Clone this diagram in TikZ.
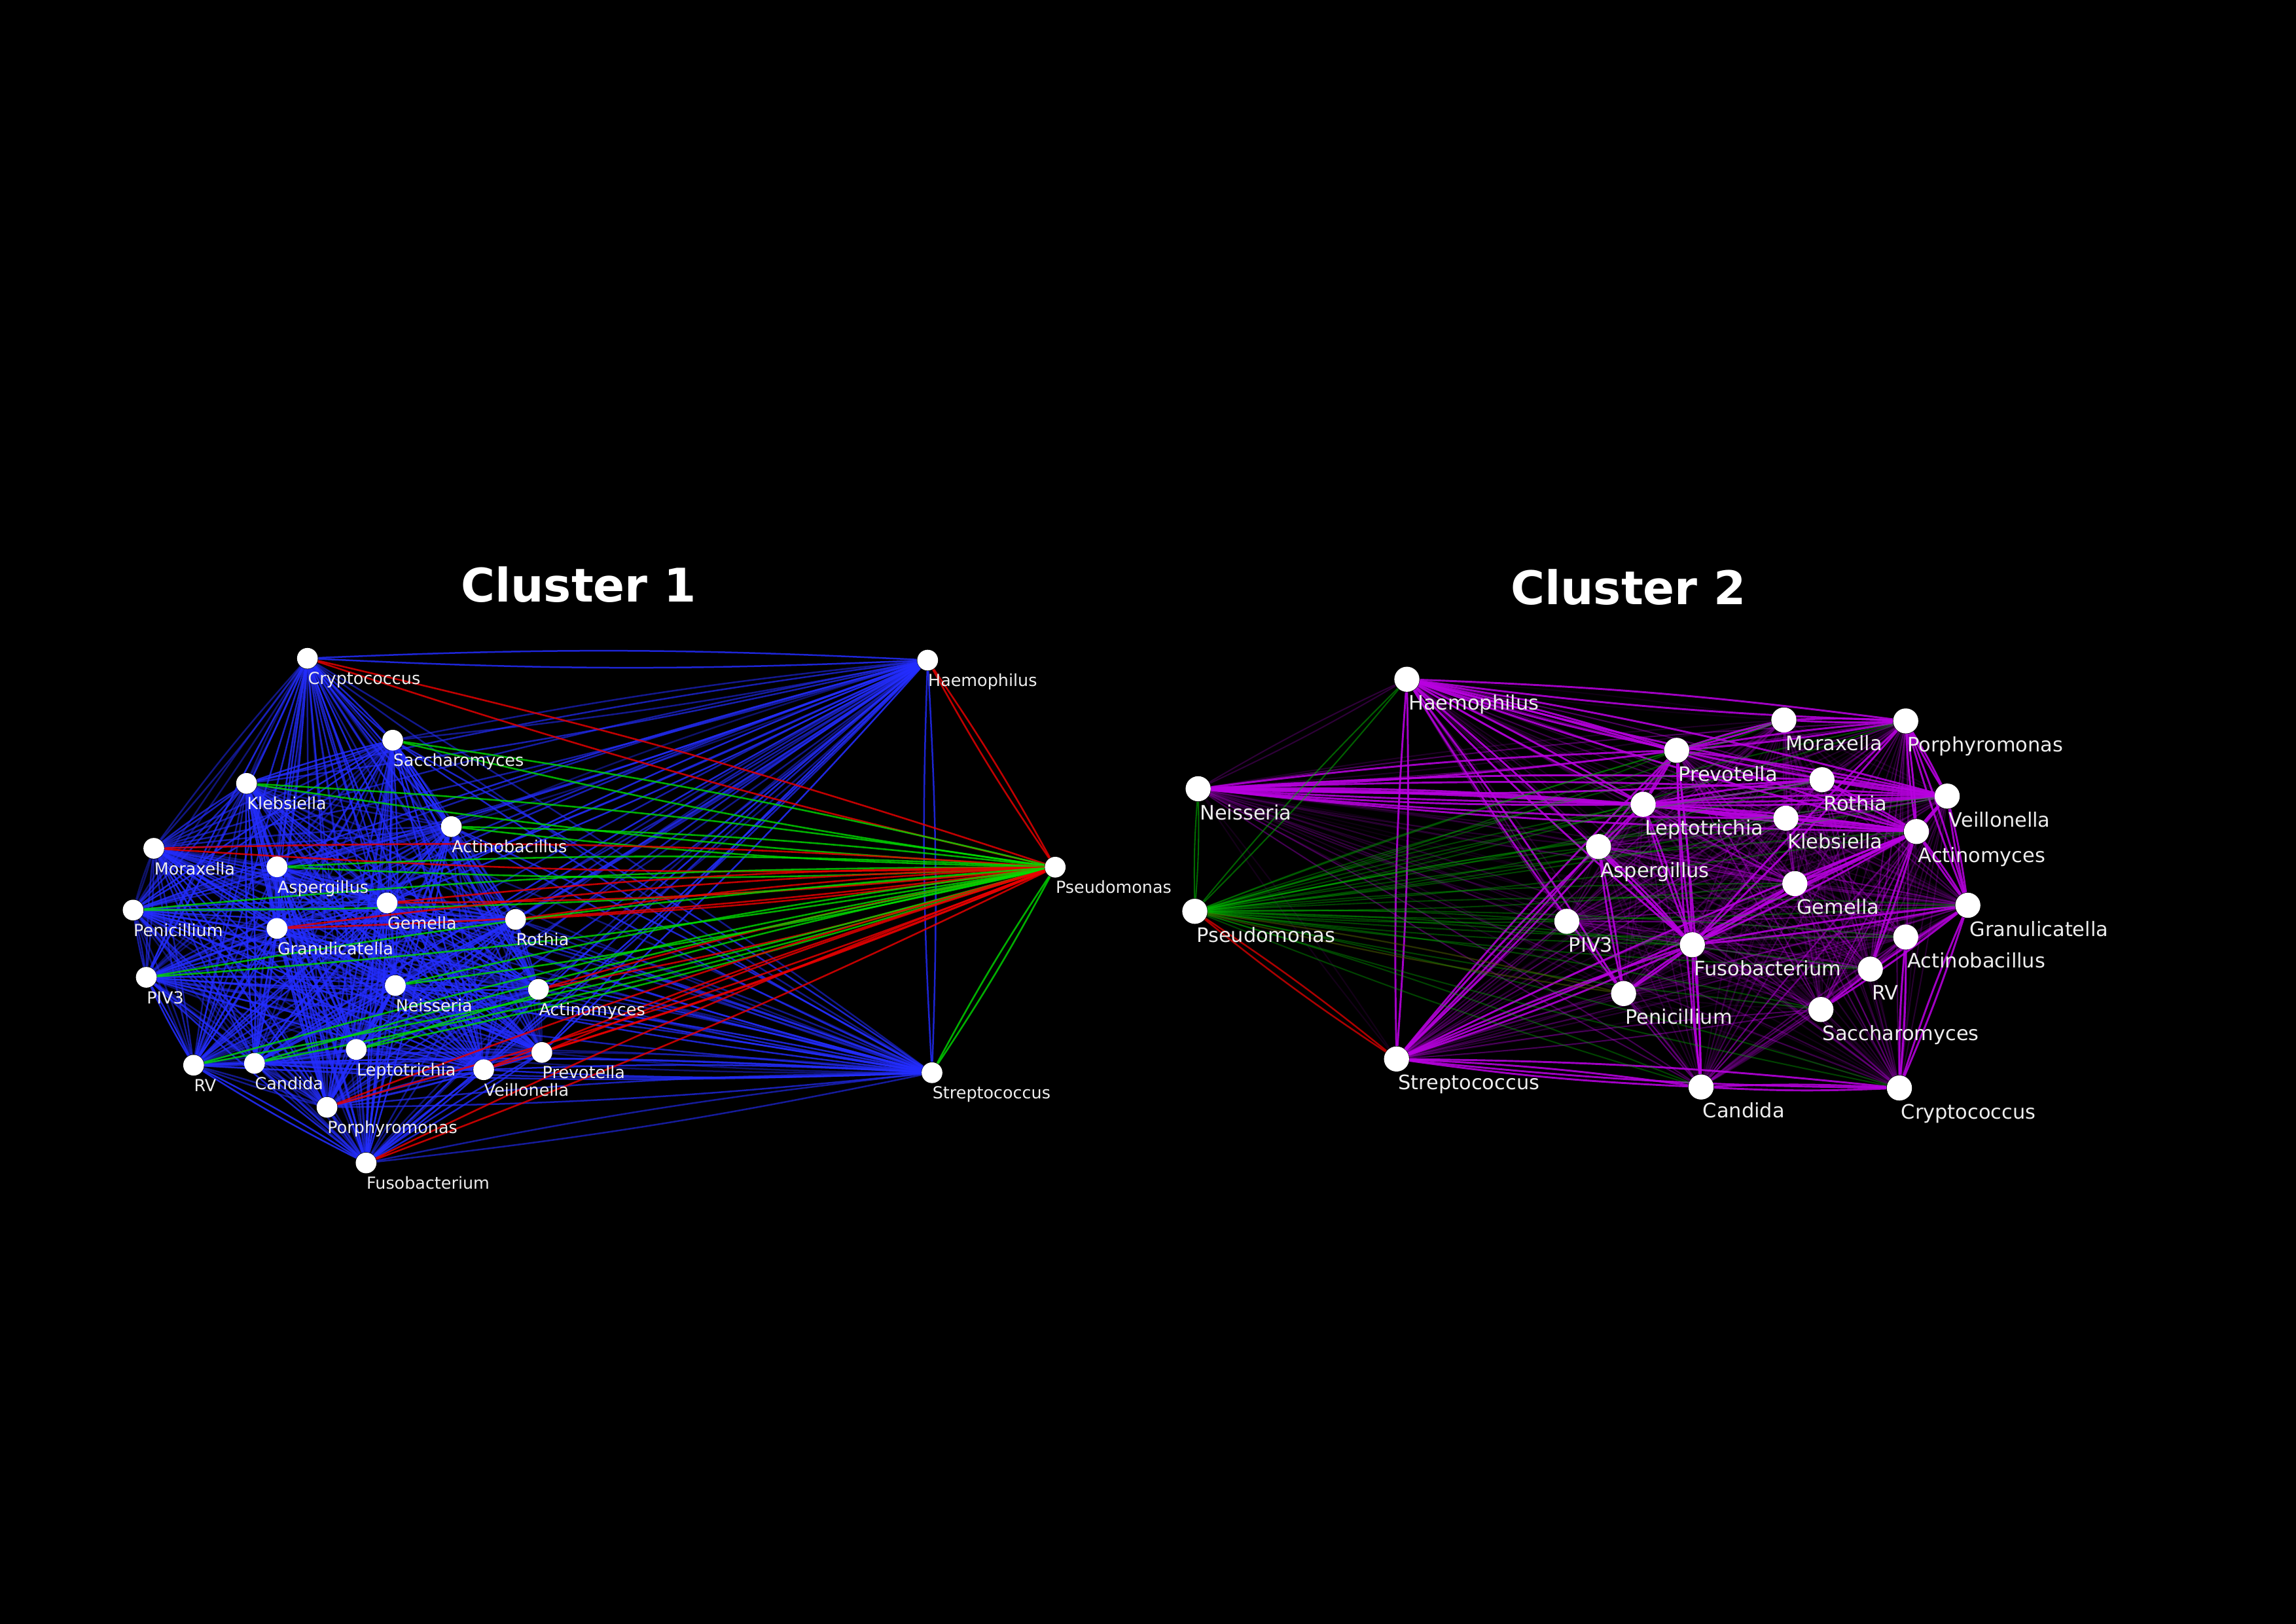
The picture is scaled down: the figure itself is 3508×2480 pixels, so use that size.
\documentclass[tikz,border=0pt]{standalone}
\usepackage{fontspec}
\setmainfont{DejaVu Sans}
\pgfdeclarelayer{bg}
\pgfdeclarelayer{edges}
\pgfsetlayers{bg,edges,main}
\definecolor{cblue}{RGB}{35,45,255}
\definecolor{cgreen}{RGB}{0,225,0}
\definecolor{cred}{RGB}{235,0,0}
\definecolor{cpurple}{RGB}{185,0,225}
\definecolor{cgreenB}{RGB}{0,190,0}
\definecolor{credB}{RGB}{190,0,0}
\definecolor{labgrey}{RGB}{238,238,238}
\tikzset{
  dotA/.style={circle,fill=white,draw=none,minimum size=7.6pt,inner sep=0pt},
  dotB/.style={circle,fill=white,draw=none,minimum size=9.2pt,inner sep=0pt},
  labA/.style={anchor=base west,inner sep=0pt,text=labgrey,font=\fontsize{6.1}{7}\selectfont},
  labB/.style={anchor=base west,inner sep=0pt,text=labgrey,font=\fontsize{7.3}{8.5}\selectfont},
  ttl/.style={anchor=base,inner sep=0pt,text=white,font=\fontsize{17}{20}\selectfont\bfseries},
  edgeA/.style={draw=cblue,line width=0.6pt},
  edgeR/.style={draw=cred,line width=0.62pt,draw opacity=0.82},
  edgeG/.style={draw=cgreen,line width=0.62pt,draw opacity=0.78},
  edgeP/.style={draw=cpurple,line width=0.5pt},
  edgePS/.style={draw=cpurple,line width=0.7pt,draw opacity=0.85},
  edgeGB/.style={draw=cgreenB,line width=0.5pt},
  edgeRB/.style={draw=credB,line width=0.6pt},
}
\newcommand\nodeA[4]{\node[dotA] (#1) at (#2,#3) {};\node[labA] (#1l) at (#2,#3+40) {#4};}
\newcommand\nodeB[4]{\node[dotB] (#1) at (#2,#3) {};\node[labB] (#1l) at (#2+2,#3+47) {#4};}
\newcommand\lensA[3]{\draw[#1] (#2) to[bend left=2.6] (#3); \draw[#1] (#3) to[bend left=2.6] (#2);}
\begin{document}
\begin{tikzpicture}[x=0.24pt,y=-0.24pt]
\useasboundingbox (0,0) rectangle (3508,2480);
\begin{pgfonlayer}{bg}
\fill[black] (-20,-20) rectangle (3528,2500);
\end{pgfonlayer}
% titles
\node[ttl] (t1) at (884,919) {Cluster 1};
\node[ttl] (t2) at (2488,923) {Cluster 2};
% ---------- Cluster 1 nodes ----------
\nodeA{a1}{469.7}{1005.7}{Cryptococcus}
\nodeA{a2}{600}{1130.8}{Saccharomyces}
\nodeA{a3}{376.7}{1196.8}{Klebsiella}
\nodeA{a4}{689.6}{1262.8}{Actinobacillus}
\nodeA{a5}{235}{1296}{Moraxella}
\nodeA{a6}{423.2}{1324.2}{Aspergillus}
\nodeA{a7}{203.4}{1390.3}{Penicillium}
\nodeA{a8}{591.4}{1379.4}{Gemella}
\nodeA{a9}{423.2}{1418.4}{Granulicatella}
\nodeA{a10}{787.7}{1404.6}{Rothia}
\nodeA{a11}{223.5}{1493}{PIV3}
\nodeA{a12}{604}{1505.6}{Neisseria}
\nodeA{a13}{822.7}{1511.4}{Actinomyces}
\nodeA{a14}{295.8}{1627.3}{RV}
\nodeA{a15}{388.8}{1624.5}{Candida}
\nodeA{a16}{544.3}{1603.2}{Leptotrichia}
\nodeA{a17}{739}{1634.2}{Veillonella}
\nodeA{a18}{827.9}{1607.8}{Prevotella}
\nodeA{a19}{499.6}{1691.6}{Porphyromonas}
\nodeA{a20}{559.3}{1776.6}{Fusobacterium}
\nodeA{a21}{1417.3}{1008.5}{Haemophilus}
\nodeA{a22}{1424}{1638.8}{Streptococcus}
\nodeA{a23}{1612.2}{1324.8}{Pseudomonas}
% ---------- Cluster 2 nodes ----------
\nodeB{b1}{2149.5}{1037.7}{Haemophilus}
\nodeB{b2}{1830.6}{1205}{Neisseria}
\nodeB{b3}{1825.5}{1392.2}{Pseudomonas}
\nodeB{b4}{2133.7}{1617.8}{Streptococcus}
\nodeB{b5}{2510.5}{1228.7}{Leptotrichia}
\nodeB{b6}{2442.3}{1293.3}{Aspergillus}
\nodeB{b7}{2393.9}{1407.5}{PIV3}
\nodeB{b8}{2480.6}{1517.8}{Penicillium}
\nodeB{b9}{2725.5}{1099.9}{Moraxella}
\nodeB{b10}{2911.7}{1101.4}{Porphyromonas}
\nodeB{b11}{2561.7}{1146.3}{Prevotella}
\nodeB{b12}{2783.7}{1191.2}{Rothia}
\nodeB{b13}{2975}{1216.2}{Veillonella}
\nodeB{b14}{2728.6}{1249.9}{Klebsiella}
\nodeB{b15}{2928}{1270.3}{Actinomyces}
\nodeB{b16}{2742.3}{1349.9}{Gemella}
\nodeB{b17}{3006.6}{1383}{Granulicatella}
\nodeB{b18}{2911.7}{1431.5}{Actinobacillus}
\nodeB{b19}{2585.7}{1443.3}{Fusobacterium}
\nodeB{b20}{2857.6}{1480.5}{RV}
\nodeB{b21}{2782.1}{1542.2}{Saccharomyces}
\nodeB{b22}{2599}{1660.6}{Candida}
\nodeB{b23}{2902}{1662.1}{Cryptococcus}
% ---------- edges ----------
\begin{pgfonlayer}{edges}
\pgfmathsetseed{4711}
% cluster 1: blue among all but Pseudomonas
\foreach \i in {1,...,21}{
  \pgfmathtruncatemacro\js{\i+1}
  \foreach \j in {\js,...,22}{
    \pgfmathsetmacro\op{0.38+0.5*rnd}
    \lensA{edgeA,draw opacity=\op}{a\i}{a\j}
  }
}
% cluster 1: Pseudomonas links
\foreach \i/\s in {1/edgeR,2/edgeG,3/edgeG,4/edgeG,5/edgeR,6/edgeG,7/edgeG,8/edgeR,9/edgeR,10/edgeR,11/edgeG,12/edgeG,13/edgeR,14/edgeG,15/edgeG,16/edgeG,17/edgeR,18/edgeR,19/edgeR,20/edgeR,21/edgeR,22/edgeG}{
  \lensA{\s}{a23}{a\i}
}
% cluster 2: purple among all but Pseudomonas
\foreach \i in {1,2,4,5,...,22}{
  \pgfmathtruncatemacro\js{\i+1}
  \foreach \j in {\js,...,23}{
    \ifnum\j=3\relax\else
      \pgfmathsetmacro\op{0.08+0.5*rnd*rnd}
      \lensA{edgeP,draw opacity=\op}{b\i}{b\j}
    \fi
  }
}
% cluster 2: strong links
\foreach \i/\j in {1/4,1/10,1/11,1/5,1/13,1/19,1/8,1/15,2/5,2/11,2/13,2/12,2/14,2/15,
  4/19,4/22,4/23,4/5,4/15,4/11,5/11,5/13,5/15,5/12,5/19,11/10,11/13,11/19,11/22,
  10/13,10/15,10/9,10/19,10/17,13/15,13/17,15/19,15/17,15/12,15/14,19/22,19/8,19/6,
  19/17,19/16,22/23,23/17,23/18,6/8,9/11,12/13,14/5,16/15,21/17,20/15}{
  \lensA{edgePS}{b\i}{b\j}
}
% cluster 2: Pseudomonas links
\foreach \i in {5,6,...,23}{
  \lensA{edgeGB,draw opacity=0.35}{b3}{b\i}
}
\lensA{edgeGB,draw opacity=0.55}{b3}{b2}
\lensA{edgeGB,draw opacity=0.5}{b3}{b1}
\lensA{edgeRB,draw opacity=0.2}{b3}{b8}
\lensA{edgeRB,draw opacity=0.9}{b3}{b4}
\end{pgfonlayer}
\end{tikzpicture}
\end{document}
